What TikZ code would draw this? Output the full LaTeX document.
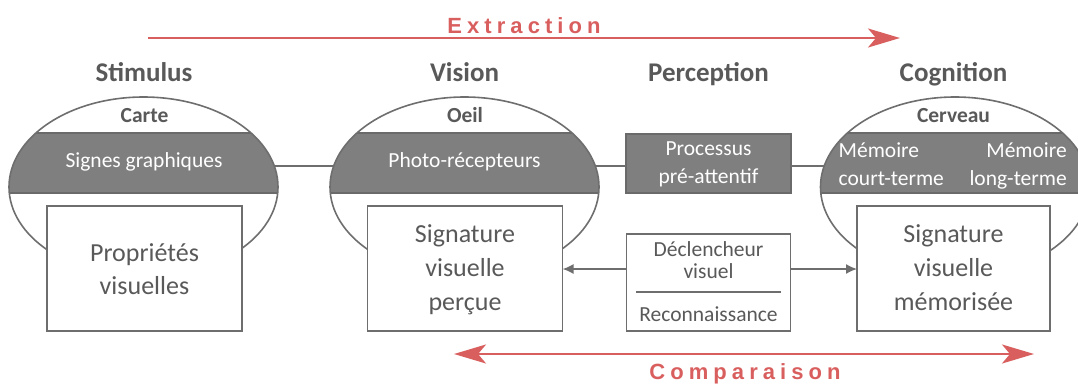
\documentclass[tikz,border=0pt]{standalone}
\usepackage{fontspec}
\setmainfont{Carlito}
\newfontfamily\redfont[LetterSpace=23]{Liberation Sans}
\usetikzlibrary{shapes.geometric,arrows.meta}
\definecolor{txtgray}{HTML}{595959}
\definecolor{bandgray}{HTML}{7F7F7F}
\definecolor{edgegray}{HTML}{6A6A6A}
\definecolor{bordergray}{HTML}{6E6E6E}
\definecolor{redc}{HTML}{D95F5F}
\tikzset{
  head/.style={anchor=base, inner sep=0, text=txtgray, font=\fontsize{27}{32}\selectfont\bfseries},
  sub/.style={anchor=base, inner sep=0, text=txtgray, font=\fontsize{21.5}{26}\selectfont\bfseries},
  bandtxt/.style={anchor=base, inner sep=0, text=white, font=\fontsize{21.5}{26}\selectfont},
  smalltxt/.style={anchor=base, inner sep=0, text=txtgray, font=\fontsize{21.5}{26}\selectfont},
  bigtxt/.style={anchor=base, inner sep=0, text=txtgray, font=\fontsize{26}{32}\selectfont},
  redtxt/.style={anchor=base, inner sep=0, text=redc, font=\redfont\fontsize{22}{26}\selectfont\bfseries},
  ell/.style={ellipse, minimum width=269pt, minimum height=180pt, inner sep=0, outer sep=0, fill=white},
  ellline/.style={draw=bordergray, line width=1.6pt},
  bandbox/.style={fill=bandgray, draw=edgegray, line width=1.4pt},
  whitebox/.style={rectangle, fill=white, draw=bordergray, line width=1.6pt, inner sep=0, outer sep=0},
  graybox/.style={rectangle, fill=bandgray, draw=edgegray, line width=1.6pt, inner sep=0, outer sep=0},
  conn/.style={draw=bordergray, line width=1.6pt},
  garrow/.style={conn, -{Latex[length=11pt,width=10pt]}},
  redline/.style={draw=redc, line width=2.4pt},
  redtip/.tip={Stealth[length=32pt,width=19pt,inset=8pt]},
}
\begin{document}
\begin{tikzpicture}[x=1pt,y=-1pt]
\useasboundingbox (0,0) rectangle (1078,383);
% ellipses
\node[ell] (stimE) at (143.5,187) {};
\node[ell] (visE) at (464.5,187) {};
\node[ell] (cogE) at (955,187) {};
\foreach \c in {stimE,visE,cogE}{
  \begin{scope}
    \clip (\c.center) ellipse [x radius=134.5pt, y radius=90pt];
    \path[bandbox] (-10,133) rectangle (1100,193);
  \end{scope}
  \draw[ellline] (\c.center) ellipse [x radius=134.5pt, y radius=90pt];
}
% connectors on band level
\node[graybox, minimum width=165pt, minimum height=59pt] (pp) at (708.5,163.5) {};
\draw[conn] (stimE.9) -- (visE.171);
\draw[conn] (visE.9) -- (visE.9 -| pp.west);
\draw[conn] (pp.east |- cogE.171) -- (cogE.171);
% rectangles
\node[whitebox, minimum width=195pt, minimum height=125pt] (stimR) at (144.5,268.5) {};
\node[whitebox, minimum width=195pt, minimum height=125pt] (visR) at (465,268.5) {};
\node[whitebox, minimum width=193pt, minimum height=125pt] (cogR) at (953.5,268.5) {};
\node[whitebox, minimum width=164pt, minimum height=97pt] (dv) at (708.5,282.5) {};
\coordinate (dl1) at (636,292);
\coordinate (dl2) at (781,292);
\draw[conn] (dl1) -- (dl2);
\draw[garrow] ([yshift=13.5pt]dv.west) -- ([yshift=13.5pt]dv.west -| visR.east);
\draw[garrow] ([yshift=13.5pt]dv.east) -- ([yshift=13.5pt]dv.east -| cogR.west);
% red arrows
\coordinate (exS) at (148,38);
\coordinate (exE) at (900,38);
\draw[redline, -redtip] (exS) -- (exE);
\coordinate (cpS) at (454,354);
\coordinate (cpE) at (1034,354);
\draw[redline, redtip-redtip] (cpS) -- (cpE);
\node[redtxt] (tExt) at (524,33) {Extraction};
\node[redtxt] (tCmp) at (745,379) {Comparaison};
% headings
\node[head] (hStim) at (144,81) {Stimulus};
\node[head] (hVis) at (464.5,81) {Vision};
\node[head] (hPer) at (708.5,81) {Perception};
\node[head] (hCog) at (953.5,81) {Cognition};
\node[sub] (sCarte) at (144.5,122) {Carte};
\node[sub] (sOeil) at (465,122) {Oeil};
\node[sub] (sCerv) at (953.5,122) {Cerveau};
% band texts
\node[bandtxt] (tSig) at (144,167) {Signes graphiques};
\node[bandtxt] (tPho) at (464.5,167) {Photo-récepteurs};
\node[bandtxt] (tPr1) at (708.5,155) {Processus};
\node[bandtxt] (tPr2) at (708.5,183) {pré-attentif};
\node[bandtxt, anchor=base west] (tM1) at (838.5,157) {Mémoire};
\node[bandtxt, anchor=base west] (tM2) at (838.5,185) {court-terme};
\node[bandtxt, anchor=base east] (tM3) at (1067,157) {Mémoire};
\node[bandtxt, anchor=base east] (tM4) at (1067,185) {long-terme};
% box texts
\node[bigtxt] (tP1) at (144.5,261) {Propriétés};
\node[bigtxt] (tP2) at (144.5,294) {visuelles};
\node[bigtxt] (tS1) at (465,242) {Signature};
\node[bigtxt] (tS2) at (465,276) {visuelle};
\node[bigtxt] (tS3) at (465,310) {perçue};
\node[bigtxt] (tC1) at (953.5,242) {Signature};
\node[bigtxt] (tC2) at (953.5,276) {visuelle};
\node[bigtxt] (tC3) at (953.5,310) {mémorisée};
\node[smalltxt] (tD1) at (708.5,256.5) {Déclencheur};
\node[smalltxt] (tD2) at (708.5,278) {visuel};
\node[smalltxt] (tD3) at (708.5,321) {Reconnaissance};
\end{tikzpicture}
\end{document}
